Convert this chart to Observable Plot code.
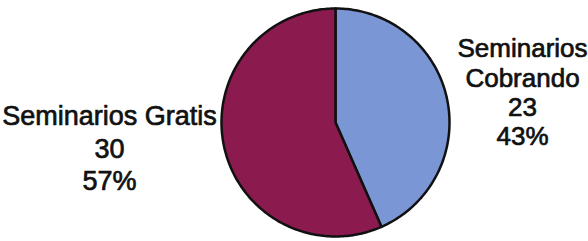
<!DOCTYPE html>
<html>
<head>
<meta charset="utf-8">
<script src="https://cdn.jsdelivr.net/npm/d3@7"></script>
<script src="https://cdn.jsdelivr.net/npm/@observablehq/plot@0.6"></script>
<style>
  html, body { margin: 0; padding: 0; background: #fff; }
  #chart { width: 588px; height: 241px; overflow: hidden; }
</style>
</head>
<body>
<div id="chart"></div>
<script>
// Data
const categories = ["Seminarios Cobrando", "Seminarios Gratis"];
const counts = [23, 30];
const percents = ["43%", "57%"];
const labelNames = ["Seminarios\nCobrando", "Seminarios Gratis"];
const sliceColors = ["#7b96d5", "#8b1a4f"];

// Build slice polygons from pie angles (clockwise from 12 o'clock)
const arcs = d3.pie().sort(null).value(d => d)(counts);
const slices = arcs.map((a, i) => {
  const pts = [{x: 0, y: 0}];
  const steps = Math.max(2, Math.ceil((a.endAngle - a.startAngle) / (Math.PI / 180)));
  for (let k = 0; k <= steps; k++) {
    const t = a.startAngle + (a.endAngle - a.startAngle) * k / steps;
    pts.push({x: Math.sin(t), y: Math.cos(t)});
  }
  return {category: categories[i], pts};
});

const labels = categories.map((c, i) => ({
  category: c,
  text: `${labelNames[i]}\n${counts[i]}\n${percents[i]}`
}));

const R = 114; // pixel radius
const cx = 335, cy = 122, W = 588, H = 241;

const marks = slices.map((s, i) =>
  Plot.line(s.pts, {
    x: "x", y: "y",
    fill: sliceColors[i],
    stroke: "#111",
    strokeWidth: 2.5,
    strokeLinejoin: "round",
    curve: "linear-closed"
  })
);

marks.push(
  Plot.text([labels[1]], {
    text: "text",
    frameAnchor: "left",
    textAnchor: "middle",
    dx: 109, dy: 26,
    fontSize: 27,
    lineHeight: 1.22,
    fill: "#111",
    stroke: "#111",
    strokeWidth: 0.7
  }),
  Plot.text([labels[0]], {
    text: "text",
    frameAnchor: "right",
    textAnchor: "middle",
    dx: -66, dy: -29,
    fontSize: 26,
    lineHeight: 1.13,
    fill: "#111",
    stroke: "#111",
    strokeWidth: 0.7
  })
);

const chart = Plot.plot({
  width: W,
  height: H,
  margin: 0,
  x: {domain: [-cx / R, (W - cx) / R], axis: null},
  y: {domain: [-(H - cy) / R, cy / R], axis: null},
  style: {fontFamily: "'Liberation Sans', Arial, sans-serif", background: "#fff"},
  marks
});
document.getElementById("chart").appendChild(chart);
</script>
</body>
</html>
